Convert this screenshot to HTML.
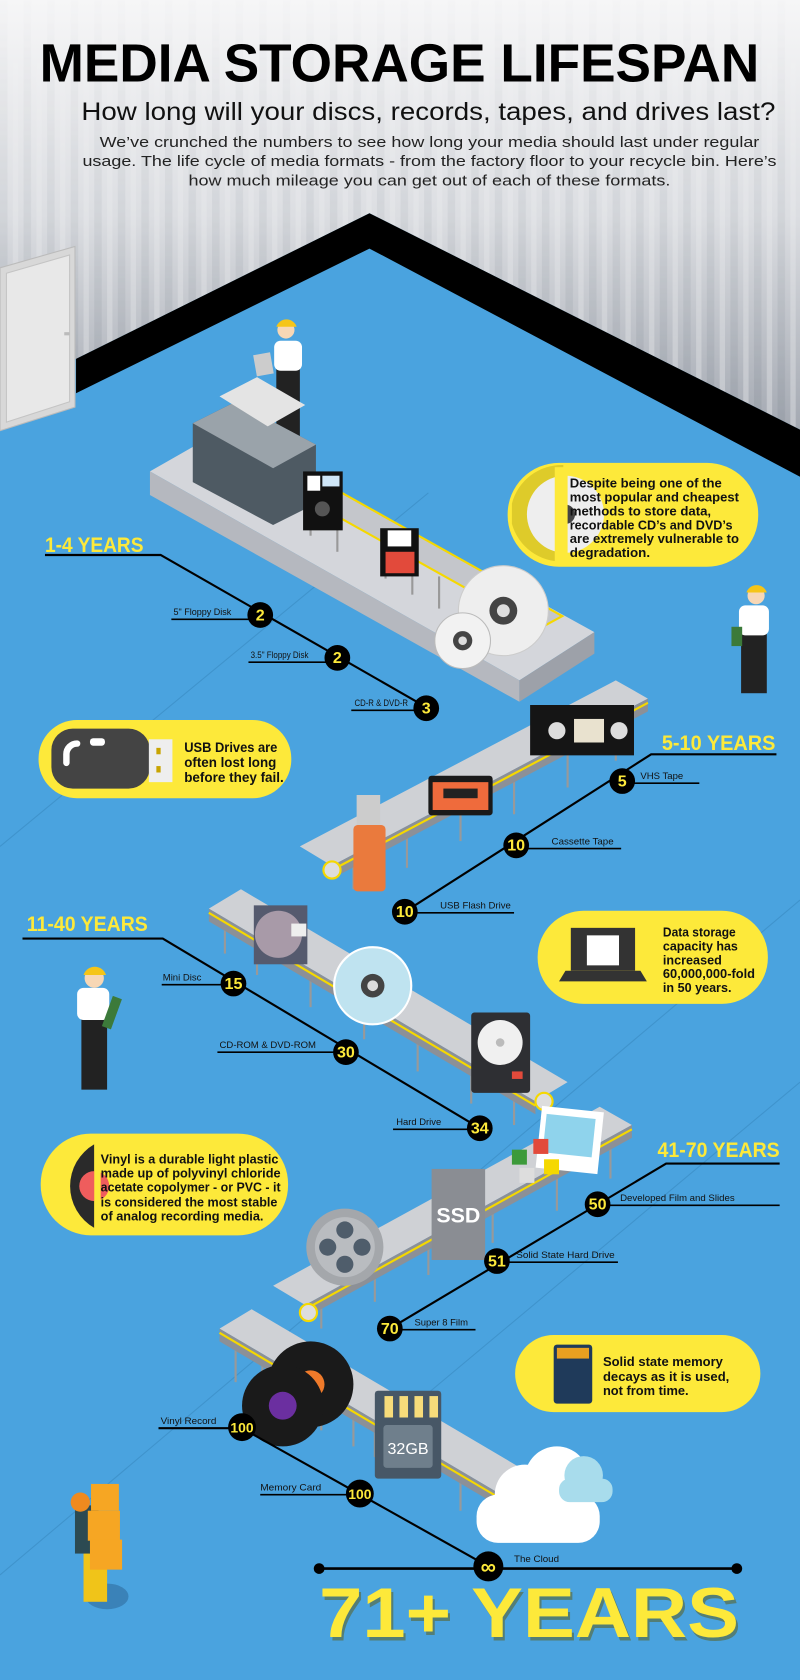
<!DOCTYPE html>
<html><head><meta charset="utf-8"><style>
html,body{margin:0;padding:0;background:#4aa3df}
svg{display:block}
text{font-family:"Liberation Sans",sans-serif}
</style></head><body>
<svg width="800" height="1680" viewBox="0 0 747 1568" preserveAspectRatio="none" xmlns="http://www.w3.org/2000/svg">
<defs>
<linearGradient id="wallg" x1="0" y1="0" x2="0" y2="1">
<stop offset="0" stop-color="#f6f6f7"/><stop offset="0.5" stop-color="#dcdee2"/><stop offset="1" stop-color="#a4a9b2"/>
</linearGradient>
<pattern id="stripes" width="22" height="10" patternUnits="userSpaceOnUse">
<rect x="0" width="7" height="10" fill="#6b7280" opacity="0.18"/>
<rect x="12" width="5" height="10" fill="#fff" opacity="0.35"/>
</pattern>
<linearGradient id="stripfade" x1="0" y1="0" x2="0" y2="1">
<stop offset="0" stop-color="#fff" stop-opacity="0.05"/><stop offset="1" stop-color="#fff" stop-opacity="1"/>
</linearGradient>
<mask id="fm"><rect width="747" height="450" fill="url(#stripfade)"/></mask>
</defs>
<rect width="747" height="1568" fill="#4aa3df"/>
<!-- wall -->
<polygon points="0,0 747,0 747,401 345,199 71,335 0,370" fill="url(#wallg)"/>
<polygon points="0,0 747,0 747,401 345,199 71,335 0,370" fill="url(#stripes)" mask="url(#fm)"/>
<polygon points="71,335 345,199 747,401 747,445 345,232 71,367" fill="#000"/>
<!-- door -->
<polygon points="0,250 70,230 70,380 0,402" fill="#d8d8d8" stroke="#bbb"/>
<polygon points="6,255 65,238 65,375 6,394" fill="#e8e8e8" stroke="#c4c4c4"/>
<rect x="60" y="310" width="5" height="3" fill="#bbb"/>
<!-- faint floor lines -->
<g stroke="#3f93cc" stroke-width="1">
<line x1="0" y1="790" x2="400" y2="460"/><line x1="0" y1="1470" x2="747" y2="840"/><line x1="400" y1="1300" x2="747" y2="1010"/>
</g>
<!-- Title -->
<text x="373" y="76" text-anchor="middle" font-size="50" font-weight="bold" fill="#000" textLength="672" lengthAdjust="spacingAndGlyphs">MEDIA STORAGE LIFESPAN</text>
<text x="400" y="112" text-anchor="middle" font-size="23" fill="#111" textLength="648" lengthAdjust="spacingAndGlyphs">How long will your discs, records, tapes, and drives last?</text>
<text x="401" y="137" text-anchor="middle" font-size="14" fill="#222" textLength="616" lengthAdjust="spacingAndGlyphs">We’ve crunched the numbers to see how long your media should last under regular</text>
<text x="401" y="155" text-anchor="middle" font-size="14" fill="#222" textLength="648" lengthAdjust="spacingAndGlyphs">usage. The life cycle of media formats - from the factory floor to your recycle bin. Here’s</text>
<text x="401" y="173" text-anchor="middle" font-size="14" fill="#222" textLength="450" lengthAdjust="spacingAndGlyphs">how much mileage you can get out of each of these formats.</text>

<!-- worker top -->
<g>
<rect x="258" y="337" width="22" height="70" fill="#222"/>
<rect x="256" y="318" width="26" height="28" rx="6" fill="#fff"/>
<circle cx="267" cy="308" r="8" fill="#f7d7b5"/>
<path d="M258 305 a10 10 0 0 1 19 0 z" fill="#f5c518"/>
<rect x="238" y="330" width="16" height="20" fill="#ccc" transform="rotate(-10 246 340)"/>
</g>
<!-- big slab -->
<polygon points="140,440 210,400 555,590 485,635" fill="#d4d6db"/>
<polygon points="140,440 485,635 485,655 140,462" fill="#b5b8bf"/>
<polygon points="485,635 555,590 555,610 485,655" fill="#9da1a9"/>
<polygon points="240,440 262,428 525,575 503,587" fill="#c4c6cb" stroke="#f5d800" stroke-width="2"/>
<g stroke="#999" stroke-width="2"><line x1="290" y1="470" x2="290" y2="500"/><line x1="315" y1="485" x2="315" y2="515"/><line x1="360" y1="510" x2="360" y2="540"/><line x1="385" y1="524" x2="385" y2="555"/><line x1="410" y1="538" x2="410" y2="568"/></g>
<!-- machine -->
<polygon points="180,395 220,375 295,415 295,470 255,490 180,450" fill="#4e5a63"/>
<polygon points="220,375 295,415 255,437 180,395" fill="#9aa3aa"/>
<polygon points="205,370 240,352 285,378 250,398" fill="#e4e4e4"/>
<!-- floppies -->
<rect x="283" y="440" width="37" height="55" fill="#111"/>
<rect x="287" y="444" width="12" height="14" fill="#fff"/><rect x="301" y="444" width="16" height="10" fill="#cfe6f7"/>
<circle cx="301" cy="475" r="7" fill="#555"/>
<rect x="355" y="493" width="36" height="45" fill="#111"/>
<rect x="362" y="495" width="22" height="15" fill="#fff"/>
<rect x="360" y="515" width="27" height="20" fill="#e24a3b"/>
<!-- CDs -->
<circle cx="470" cy="570" r="42" fill="#eee" stroke="#ccc"/><circle cx="470" cy="570" r="13" fill="#444"/><circle cx="470" cy="570" r="6" fill="#ddd"/>
<circle cx="432" cy="598" r="26" fill="#f2f2f2" stroke="#bbb"/><circle cx="432" cy="598" r="9" fill="#444"/><circle cx="432" cy="598" r="4" fill="#ddd"/>

<!-- callout CD -->
<rect x="474" y="432" width="234" height="97" rx="48" fill="#fde93a"/>
<path d="M478 470 a48 48 0 0 1 48 -36 v90 a48 48 0 0 1 -48 -35z" fill="#c9b81f" opacity="0.6"/>
<circle cx="528" cy="480" r="36" fill="#eee"/><circle cx="528" cy="480" r="9" fill="#444"/>
<rect x="518" y="436" width="12" height="90" fill="#fde93a"/>
<g font-size="12" font-weight="bold" fill="#111">
<text x="532" y="455" textLength="142" lengthAdjust="spacingAndGlyphs">Despite being one of the</text>
<text x="532" y="468" textLength="158" lengthAdjust="spacingAndGlyphs">most popular and cheapest</text>
<text x="532" y="481" textLength="132" lengthAdjust="spacingAndGlyphs">methods to store data,</text>
<text x="532" y="494" textLength="152" lengthAdjust="spacingAndGlyphs">recordable CD’s and DVD’s</text>
<text x="532" y="507" textLength="158" lengthAdjust="spacingAndGlyphs">are extremely vulnerable to</text>
<text x="532" y="520" textLength="75" lengthAdjust="spacingAndGlyphs">degradation.</text>
</g>
<!-- worker right -->
<g>
<rect x="692" y="585" width="24" height="62" fill="#222"/>
<rect x="690" y="565" width="28" height="28" rx="6" fill="#fff"/>
<circle cx="706" cy="556" r="8" fill="#f7d7b5"/>
<path d="M697 553 a10 10 0 0 1 19 0z" fill="#f5c518"/>
<rect x="683" y="585" width="10" height="18" fill="#3c7a3a"/>
</g>

<!-- timeline 1 -->
<text x="42" y="515" font-size="20" font-weight="bold" fill="#fde93a" textLength="92" lengthAdjust="spacingAndGlyphs">1-4 YEARS</text>
<polyline points="42,518 150,518 398,660" fill="none" stroke="#000" stroke-width="2"/>
<g stroke="#000" stroke-width="1.5"><line x1="160" y1="578" x2="243" y2="578"/><line x1="232" y1="618" x2="315" y2="618"/><line x1="328" y1="663" x2="398" y2="663"/></g>
<g font-size="9" fill="#111">
<text x="162" y="574" textLength="54" lengthAdjust="spacingAndGlyphs">5" Floppy Disk</text>
<text x="234" y="614" textLength="54" lengthAdjust="spacingAndGlyphs">3.5" Floppy Disk</text>
<text x="331" y="659" textLength="50" lengthAdjust="spacingAndGlyphs">CD-R &amp; DVD-R</text></g>

<!-- conveyor 2 -->
<g stroke="#999" stroke-width="2"><line x1="330" y1="790" x2="330" y2="830"/><line x1="380" y1="763" x2="380" y2="810"/><line x1="430" y1="737" x2="430" y2="785"/><line x1="480" y1="710" x2="480" y2="760"/><line x1="530" y1="684" x2="530" y2="735"/><line x1="575" y1="660" x2="575" y2="710"/></g>
<polygon points="280,790 310,808 605,652 575,635" fill="#cfd1d5"/>
<polygon points="310,808 605,652 605,664 310,820" fill="#8c9097"/>
<polyline points="310,812 605,656" stroke="#f5d800" stroke-width="2"/>
<circle cx="310" cy="812" r="8" fill="#ddd" stroke="#f5d800" stroke-width="2"/>
<!-- VHS, cassette, USB -->
<rect x="495" y="658" width="97" height="47" fill="#151515"/>
<rect x="536" y="671" width="28" height="22" fill="#e9e2cf"/>
<circle cx="520" cy="682" r="8" fill="#ddd"/><circle cx="578" cy="682" r="8" fill="#ddd"/>
<rect x="400" y="724" width="60" height="37" rx="3" fill="#1a1a1a"/>
<rect x="404" y="730" width="52" height="26" fill="#ef6b3c"/><rect x="414" y="736" width="32" height="9" fill="#222"/>
<rect x="333" y="742" width="22" height="28" fill="#ccc"/>
<rect x="330" y="770" width="30" height="62" rx="4" fill="#ea7a3d"/>

<!-- timeline 2 -->
<text x="618" y="700" font-size="20" font-weight="bold" fill="#fde93a" textLength="106" lengthAdjust="spacingAndGlyphs">5-10 YEARS</text>
<polyline points="725,704 608,704 378,851" fill="none" stroke="#000" stroke-width="2"/>
<g stroke="#000" stroke-width="1.5"><line x1="581" y1="731" x2="653" y2="731"/><line x1="482" y1="792" x2="580" y2="792"/><line x1="378" y1="852" x2="480" y2="852"/></g>
<g font-size="9" fill="#111">
<text x="598" y="727" textLength="40" lengthAdjust="spacingAndGlyphs">VHS Tape</text>
<text x="515" y="788" textLength="58" lengthAdjust="spacingAndGlyphs">Cassette Tape</text>
<text x="411" y="848" textLength="66" lengthAdjust="spacingAndGlyphs">USB Flash Drive</text></g>

<!-- callout USB -->
<rect x="36" y="672" width="236" height="73" rx="36" fill="#fde93a"/>
<rect x="48" y="680" width="92" height="56" rx="20" fill="#444"/>
<path d="M62 712 v-8 a10 10 0 0 1 10 -10" stroke="#fff" stroke-width="6" fill="none" stroke-linecap="round"/>
<rect x="84" y="689" width="14" height="7" rx="3" fill="#fff"/>
<rect x="139" y="690" width="22" height="40" fill="#eee"/><rect x="146" y="698" width="4" height="6" fill="#c8a400"/><rect x="146" y="715" width="4" height="6" fill="#c8a400"/>
<g font-size="13" font-weight="bold" fill="#111">
<text x="172" y="702" textLength="87" lengthAdjust="spacingAndGlyphs">USB Drives are</text>
<text x="172" y="716" textLength="86" lengthAdjust="spacingAndGlyphs">often lost long</text>
<text x="172" y="730" textLength="93" lengthAdjust="spacingAndGlyphs">before they fail.</text>
</g>

<!-- conveyor 3 -->
<g stroke="#999" stroke-width="2"><line x1="210" y1="858" x2="210" y2="890"/><line x1="240" y1="875" x2="240" y2="910"/><line x1="290" y1="905" x2="290" y2="940"/><line x1="340" y1="935" x2="340" y2="970"/><line x1="390" y1="963" x2="390" y2="1000"/><line x1="440" y1="992" x2="440" y2="1030"/><line x1="480" y1="1015" x2="480" y2="1050"/></g>
<polygon points="195,848 225,830 530,1010 500,1028" fill="#cfd1d5"/>
<polygon points="195,848 500,1028 500,1040 195,860" fill="#8c9097"/>
<polyline points="195,852 500,1032" stroke="#f5d800" stroke-width="2"/>
<circle cx="508" cy="1028" r="8" fill="#ddd" stroke="#f5d800" stroke-width="2"/>
<rect x="237" y="845" width="50" height="55" fill="#555a6e"/><circle cx="260" cy="872" r="22" fill="#a89aa8"/><rect x="272" y="862" width="14" height="12" fill="#eee"/>
<circle cx="348" cy="920" r="36" fill="#bfe3f0" stroke="#fff" stroke-width="2"/><circle cx="348" cy="920" r="11" fill="#444"/><circle cx="348" cy="920" r="5" fill="#ddd"/>
<rect x="440" y="945" width="55" height="75" rx="3" fill="#2e2f33"/><circle cx="467" cy="973" r="21" fill="#f0f0f0"/><circle cx="467" cy="973" r="4" fill="#bbb"/><rect x="478" y="1000" width="10" height="7" fill="#e24a3b"/>

<!-- timeline 3 -->
<text x="25" y="869" font-size="20" font-weight="bold" fill="#fde93a" textLength="113" lengthAdjust="spacingAndGlyphs">11-40 YEARS</text>
<polyline points="21,876 152,876 448,1053" fill="none" stroke="#000" stroke-width="2"/>
<g stroke="#000" stroke-width="1.5"><line x1="151" y1="919" x2="218" y2="919"/><line x1="203" y1="982" x2="323" y2="982"/><line x1="367" y1="1054" x2="448" y2="1054"/></g>
<g font-size="9" fill="#111">
<text x="152" y="915" textLength="36" lengthAdjust="spacingAndGlyphs">Mini Disc</text>
<text x="205" y="978" textLength="90" lengthAdjust="spacingAndGlyphs">CD-ROM &amp; DVD-ROM</text>
<text x="370" y="1050" textLength="42" lengthAdjust="spacingAndGlyphs">Hard Drive</text></g>

<!-- worker left -->
<g>
<rect x="76" y="942" width="24" height="75" fill="#222"/>
<rect x="72" y="922" width="30" height="30" rx="6" fill="#fff"/>
<circle cx="88" cy="913" r="9" fill="#f7d7b5"/>
<path d="M78 910 a11 11 0 0 1 21 0z" fill="#f5c518"/>
<rect x="100" y="930" width="9" height="30" fill="#3c7a3a" transform="rotate(20 104 945)"/>
</g>
<!-- callout data -->
<rect x="502" y="850" width="215" height="87" rx="43" fill="#fde93a"/>
<rect x="533" y="866" width="60" height="40" fill="#333"/><rect x="548" y="873" width="30" height="28" fill="#fff"/>
<polygon points="528,906 598,906 604,916 522,916" fill="#333"/>
<g font-size="12" font-weight="bold" fill="#111">
<text x="619" y="874" textLength="68" lengthAdjust="spacingAndGlyphs">Data storage</text>
<text x="619" y="887" textLength="70" lengthAdjust="spacingAndGlyphs">capacity has</text>
<text x="619" y="900" textLength="55" lengthAdjust="spacingAndGlyphs">increased</text>
<text x="619" y="913" textLength="86" lengthAdjust="spacingAndGlyphs">60,000,000-fold</text>
<text x="619" y="926" textLength="64" lengthAdjust="spacingAndGlyphs">in 50 years.</text>
</g>

<!-- callout vinyl -->
<rect x="38" y="1058" width="231" height="95" rx="47" fill="#fde93a"/>
<path d="M88 1068 a45 45 0 0 0 0 78 z" fill="#2a2a2a"/><circle cx="88" cy="1107" r="14" fill="#ef5d5d"/><rect x="88" y="1062" width="6" height="90" fill="#fde93a"/>
<g font-size="12" font-weight="bold" fill="#111">
<text x="94" y="1086" textLength="166" lengthAdjust="spacingAndGlyphs">Vinyl is a durable light plastic</text>
<text x="94" y="1099" textLength="168" lengthAdjust="spacingAndGlyphs">made up of polyvinyl chloride</text>
<text x="94" y="1112" textLength="168" lengthAdjust="spacingAndGlyphs">acetate copolymer - or PVC - it</text>
<text x="94" y="1126" textLength="165" lengthAdjust="spacingAndGlyphs">is considered the most stable</text>
<text x="94" y="1139" textLength="152" lengthAdjust="spacingAndGlyphs">of analog recording media.</text>
</g>

<!-- conveyor 4 -->
<g stroke="#999" stroke-width="2"><line x1="300" y1="1205" x2="300" y2="1240"/><line x1="350" y1="1178" x2="350" y2="1215"/><line x1="400" y1="1150" x2="400" y2="1190"/><line x1="460" y1="1118" x2="460" y2="1160"/><line x1="520" y1="1086" x2="520" y2="1130"/><line x1="570" y1="1058" x2="570" y2="1100"/></g>
<polygon points="255,1200 285,1218 590,1050 560,1033" fill="#cfd1d5"/>
<polygon points="285,1218 590,1050 590,1062 285,1230" fill="#8c9097"/>
<polyline points="285,1222 590,1054" stroke="#f5d800" stroke-width="2"/>
<circle cx="288" cy="1225" r="8" fill="#ddd" stroke="#f5d800" stroke-width="2"/>
<rect x="403" y="1091" width="50" height="85" fill="#8a8d93"/><text x="428" y="1141" text-anchor="middle" font-size="20" font-weight="bold" fill="#fff">SSD</text>
<circle cx="322" cy="1164" r="36" fill="#a4a7ab"/><circle cx="322" cy="1164" r="28" fill="#b9bcc0"/>
<circle cx="322" cy="1148" r="8" fill="#4f5d6b"/><circle cx="322" cy="1180" r="8" fill="#4f5d6b"/><circle cx="306" cy="1164" r="8" fill="#4f5d6b"/><circle cx="338" cy="1164" r="8" fill="#4f5d6b"/>
<rect x="503" y="1035" width="58" height="58" fill="#fff" transform="rotate(6 532 1064)"/><rect x="508" y="1042" width="46" height="36" fill="#8fd3ec" transform="rotate(6 532 1064)"/>
<rect x="478" y="1073" width="14" height="14" fill="#3c9a3a"/><rect x="498" y="1063" width="14" height="14" fill="#e24a3b"/><rect x="508" y="1082" width="14" height="14" fill="#f5d800"/><rect x="485" y="1090" width="14" height="14" fill="#ddd"/>

<!-- timeline 4 -->
<text x="614" y="1080" font-size="20" font-weight="bold" fill="#fde93a" textLength="114" lengthAdjust="spacingAndGlyphs">41-70 YEARS</text>
<polyline points="728,1086 622,1086 364,1240" fill="none" stroke="#000" stroke-width="2"/>
<g stroke="#000" stroke-width="1.5"><line x1="558" y1="1125" x2="728" y2="1125"/><line x1="464" y1="1178" x2="577" y2="1178"/><line x1="364" y1="1241" x2="444" y2="1241"/></g>
<g font-size="9" fill="#111">
<text x="579" y="1121" textLength="107" lengthAdjust="spacingAndGlyphs">Developed Film and Slides</text>
<text x="482" y="1174" textLength="92" lengthAdjust="spacingAndGlyphs">Solid State Hard Drive</text>
<text x="387" y="1237" textLength="50" lengthAdjust="spacingAndGlyphs">Super 8 Film</text></g>

<!-- callout SD -->
<rect x="481" y="1246" width="229" height="72" rx="36" fill="#fde93a"/>
<rect x="517" y="1255" width="36" height="55" rx="3" fill="#1f3a5a"/><rect x="520" y="1258" width="30" height="10" fill="#e9a020"/>
<g font-size="12" font-weight="bold" fill="#111">
<text x="563" y="1275" textLength="112" lengthAdjust="spacingAndGlyphs">Solid state memory</text>
<text x="563" y="1289" textLength="118" lengthAdjust="spacingAndGlyphs">decays as it is used,</text>
<text x="563" y="1302" textLength="80" lengthAdjust="spacingAndGlyphs">not from time.</text>
</g>

<!-- conveyor 5 -->
<g stroke="#999" stroke-width="2"><line x1="220" y1="1250" x2="220" y2="1290"/><line x1="245" y1="1265" x2="245" y2="1300"/><line x1="300" y1="1296" x2="300" y2="1335"/><line x1="330" y1="1314" x2="330" y2="1350"/><line x1="350" y1="1325" x2="350" y2="1360"/><line x1="430" y1="1372" x2="430" y2="1410"/><line x1="470" y1="1395" x2="470" y2="1435"/></g>
<polygon points="205,1240 235,1222 520,1390 490,1408" fill="#cfd1d5"/>
<polygon points="205,1240 490,1408 490,1420 205,1252" fill="#8c9097"/>
<polyline points="205,1244 490,1412" stroke="#f5d800" stroke-width="2"/>
<circle cx="290" cy="1292" r="40" fill="#1a1a1a"/><circle cx="290" cy="1292" r="13" fill="#ef7a2a"/>
<circle cx="264" cy="1312" r="38" fill="#1a1a1a"/><circle cx="264" cy="1312" r="13" fill="#6b2fa0"/>
<rect x="350" y="1298" width="62" height="82" rx="3" fill="#475766"/>
<rect x="359" y="1303" width="8" height="20" fill="#f7dc7a"/><rect x="373" y="1303" width="8" height="20" fill="#f7dc7a"/><rect x="387" y="1303" width="8" height="20" fill="#f7dc7a"/><rect x="401" y="1303" width="8" height="20" fill="#f7dc7a"/>
<rect x="358" y="1330" width="46" height="40" rx="3" fill="#6f7f8c"/><text x="381" y="1357" text-anchor="middle" font-size="15" fill="#fff">32GB</text>
<g fill="#fff"><circle cx="490" cy="1395" r="28"/><circle cx="520" cy="1380" r="30"/><rect x="445" y="1395" width="115" height="45" rx="20"/></g>
<g fill="#a8dcec"><circle cx="545" cy="1377" r="18"/><rect x="522" y="1380" width="50" height="22" rx="10"/></g>

<!-- timeline 5 -->
<polyline points="148,1333 226,1333 456,1462" fill="none" stroke="#000" stroke-width="2"/>
<line x1="243" y1="1395" x2="336" y2="1395" stroke="#000" stroke-width="1.5"/>
<g font-size="9" fill="#111">
<text x="150" y="1329" textLength="52" lengthAdjust="spacingAndGlyphs">Vinyl Record</text>
<text x="243" y="1391" textLength="57" lengthAdjust="spacingAndGlyphs">Memory Card</text>
<text x="480" y="1458" textLength="42" lengthAdjust="spacingAndGlyphs">The Cloud</text></g>
<line x1="298" y1="1464" x2="688" y2="1464" stroke="#000" stroke-width="2.5"/>
<circle cx="298" cy="1464" r="5" fill="#000"/><circle cx="688" cy="1464" r="5" fill="#000"/>

<!-- circles -->
<g fill="#000">
<circle cx="243" cy="574" r="12"/><circle cx="315" cy="614" r="12"/><circle cx="398" cy="661" r="12"/>
<circle cx="581" cy="729" r="12"/><circle cx="482" cy="789" r="12"/><circle cx="378" cy="851" r="12"/>
<circle cx="218" cy="918" r="12"/><circle cx="323" cy="982" r="12"/><circle cx="448" cy="1053" r="12"/>
<circle cx="558" cy="1124" r="12"/><circle cx="464" cy="1177" r="12"/><circle cx="364" cy="1240" r="12"/>
<circle cx="226" cy="1332" r="13"/><circle cx="336" cy="1394" r="13"/><circle cx="456" cy="1462" r="14"/>
</g>
<g font-size="15" font-weight="bold" fill="#fde93a" text-anchor="middle">
<text x="243" y="579">2</text><text x="315" y="619">2</text><text x="398" y="666">3</text>
<text x="581" y="734">5</text><text x="482" y="794">10</text><text x="378" y="856">10</text>
<text x="218" y="923">15</text><text x="323" y="987">30</text><text x="448" y="1058">34</text>
<text x="558" y="1129">50</text><text x="464" y="1182">51</text><text x="364" y="1245">70</text>
<text x="226" y="1337" font-size="13">100</text><text x="336" y="1399" font-size="13">100</text>
<text x="456" y="1469" font-size="20">∞</text>
</g>

<!-- worker boxes -->
<g>
<ellipse cx="100" cy="1490" rx="20" ry="12" fill="#3a82b8"/>
<rect x="78" y="1440" width="22" height="55" fill="#f0c419"/>
<rect x="70" y="1405" width="22" height="45" fill="#2c4a52"/>
<circle cx="75" cy="1402" r="9" fill="#ef8a1f"/>
<rect x="85" y="1385" width="26" height="25" fill="#f6a623"/><rect x="82" y="1410" width="30" height="28" fill="#f6a623"/><rect x="84" y="1437" width="30" height="28" fill="#f6a623"/>
</g>

<!-- 71+ YEARS -->
<text x="300" y="1531" font-size="66" font-weight="bold" fill="#5d5a10" opacity="0.5" textLength="392" lengthAdjust="spacingAndGlyphs">71+ YEARS</text>
<text x="298" y="1528" font-size="66" font-weight="bold" fill="#fde93a" textLength="392" lengthAdjust="spacingAndGlyphs">71+ YEARS</text>
</svg>
</body></html>
